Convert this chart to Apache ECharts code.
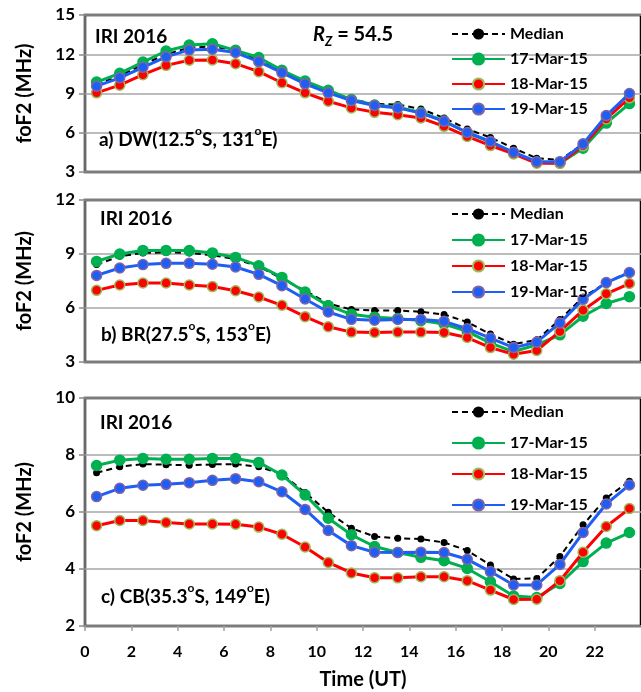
<!DOCTYPE html>
<html>
<head>
<meta charset="utf-8">
<script src="https://cdn.jsdelivr.net/npm/echarts@6/dist/echarts.min.js"></script>
<style>
  html, body {margin: 0; padding: 0; background: #fff;}
  #chart {width: 641px; height: 692px;}
</style>
</head>
<body>
<div id="chart"></div>
<script>
// hours (UT) of each point
const hours = [0.5, 1.5, 2.5, 3.5, 4.5, 5.5, 6.5, 7.5, 8.5, 9.5, 10.5, 11.5,
  12.5, 13.5, 14.5, 15.5, 16.5, 17.5, 18.5, 19.5, 20.5, 21.5, 22.5, 23.5];
const seriesNames = ['Median', '17-Mar-15', '18-Mar-15', '19-Mar-15'];
const xTicks = [0, 24, 2];

// a) DW
const dwMedian = [9.7, 10.35, 11.2, 12.0, 12.5, 12.6, 12.3, 11.6, 10.7, 9.85, 9.15, 8.55, 8.2, 8.15, 7.82, 7.13, 6.28, 5.64, 4.82, 4.05, 3.92, 5.15, 7.3, 8.9];
const dw17 = [9.87, 10.54, 11.4, 12.25, 12.7, 12.8, 12.3, 11.75, 10.77, 9.95, 9.25, 8.54, 8.12, 7.95, 7.55, 6.9, 6.0, 5.3, 4.45, 3.75, 3.67, 4.82, 6.74, 8.23];
const dw18 = [9.05, 9.64, 10.44, 11.15, 11.54, 11.56, 11.28, 10.67, 9.82, 9.05, 8.41, 7.9, 7.56, 7.38, 7.13, 6.49, 5.72, 5.02, 4.38, 3.67, 3.67, 5.0, 7.05, 8.67];
const dw19 = [9.56, 10.2, 11.0, 11.8, 12.33, 12.38, 12.13, 11.44, 10.6, 9.74, 9.05, 8.46, 8.08, 7.9, 7.5, 6.87, 6.02, 5.33, 4.51, 3.79, 3.79, 5.15, 7.31, 9.0];
// b) BR
const brMedian = [8.41, 8.87, 9.06, 9.09, 9.06, 8.93, 8.72, 8.31, 7.63, 6.96, 6.24, 5.92, 5.86, 5.86, 5.79, 5.64, 5.22, 4.55, 3.99, 4.23, 5.36, 6.6, 7.41, 8.0];
const br17 = [8.59, 9.0, 9.2, 9.2, 9.19, 9.06, 8.81, 8.35, 7.7, 6.89, 6.13, 5.65, 5.49, 5.41, 5.3, 5.11, 4.7, 4.05, 3.58, 3.95, 4.51, 5.54, 6.25, 6.63];
const br18 = [6.98, 7.28, 7.39, 7.39, 7.28, 7.19, 6.96, 6.61, 6.15, 5.52, 4.96, 4.66, 4.64, 4.66, 4.66, 4.64, 4.36, 3.8, 3.43, 3.64, 4.7, 5.88, 6.79, 7.36];
const br19 = [7.81, 8.22, 8.41, 8.48, 8.48, 8.43, 8.28, 7.87, 7.24, 6.5, 5.78, 5.37, 5.32, 5.36, 5.36, 5.26, 4.85, 4.33, 3.8, 4.1, 5.17, 6.48, 7.41, 7.97];
// c) CB
const cbMedian = [7.38, 7.59, 7.68, 7.66, 7.64, 7.67, 7.68, 7.59, 7.33, 6.68, 5.99, 5.43, 5.14, 5.08, 5.05, 4.93, 4.65, 4.14, 3.65, 3.67, 4.44, 5.55, 6.49, 7.08];
const cb17 = [7.63, 7.82, 7.88, 7.85, 7.85, 7.88, 7.88, 7.74, 7.3, 6.6, 5.78, 5.2, 4.79, 4.58, 4.41, 4.29, 4.02, 3.55, 3.05, 3.0, 3.49, 4.26, 4.91, 5.28];
const cb18 = [5.52, 5.7, 5.7, 5.63, 5.58, 5.58, 5.57, 5.47, 5.22, 4.77, 4.23, 3.86, 3.69, 3.69, 3.73, 3.73, 3.59, 3.26, 2.93, 2.94, 3.59, 4.59, 5.49, 6.12];
const cb19 = [6.54, 6.83, 6.94, 6.97, 7.03, 7.11, 7.17, 7.06, 6.71, 6.09, 5.35, 4.82, 4.59, 4.58, 4.59, 4.58, 4.34, 3.91, 3.44, 3.44, 4.16, 5.28, 6.28, 6.95];

// y ranges [min, max, interval] per panel
const yRanges = [[3, 15, 3], [3, 12, 3], [2, 10, 2]];

const FONT = 'Lato';
const styles = [
  {color: '#000', width: 2, type: [6, 4], size: 7, border: '#000'},
  {color: '#00b050', width: 3, type: 'solid', size: 10, border: '#00b050'},
  {color: '#ff0000', width: 3, type: 'solid', size: 10, border: '#9bbb59'},
  {color: '#1f5ef5', width: 3, type: 'solid', size: 10, border: '#8064a2'},
];

function pairs(vals){
  return hours.map((h, i) => [h, vals[i]]);
}

function makeSeries(panels){
  let list = [];
  panels.forEach((p, gi) => {
    p.forEach((vals, si) => {
      const s = styles[si];
      list.push({
        name: seriesNames[si],
        type: 'line',
        xAxisIndex: gi,
        yAxisIndex: gi,
        data: pairs(vals),
        symbol: 'circle',
        symbolSize: s.size,
        lineStyle: {color: s.color, width: s.width, type: s.type},
        itemStyle: {color: s.color, borderColor: s.border, borderWidth: si === 0 ? 0 : 1.5},
        emphasis: {disabled: true},
        z: 2 + si
      })
    })
  });
  return list;
}

const grids = [
  {left: 85, right: -3, top: 15, height: 157},
  {left: 85, right: -3, top: 200, height: 162},
  {left: 85, right: -3, top: 398, height: 228},
].map(g => Object.assign(g, {show: true, borderColor: '#000', borderWidth: 2.5, backgroundColor: 'transparent'}));

const xAxes = grids.map((g, i) => ({
  type: 'value',
  gridIndex: i,
  min: xTicks[0],
  max: xTicks[1],
  interval: xTicks[2],
  splitLine: {show: false},
  axisLine: {show: false},
  axisTick: {show: i === 2, length: 5, lineStyle: {color: '#a0a0a0', width: 1.5}},
  axisLabel: {show: i === 2, showMaxLabel: false, margin: 18, color: '#000', fontFamily: FONT, fontWeight: 'bold', fontSize: 16},
  name: i === 2 ? 'Time (UT)' : '',
  nameLocation: 'middle',
  nameGap: 44,
  nameTextStyle: {color: '#000', fontFamily: FONT, fontWeight: 'bold', fontSize: 20}
}));

const yAxes = grids.map((g, i) => ({
  type: 'value',
  gridIndex: i,
  min: yRanges[i][0],
  max: yRanges[i][1],
  interval: yRanges[i][2],
  splitLine: {show: true, lineStyle: {color: '#a6a6a6', width: 1.5}},
  axisLine: {show: true, lineStyle: {color: '#8c8c8c', width: 1.5}},
  axisTick: {show: true, length: 6, lineStyle: {color: '#8c8c8c', width: 1.5}},
  axisLabel: {margin: 10, color: '#000', fontFamily: FONT, fontWeight: 'bold', fontSize: 17},
  name: 'foF2 (MHz)',
  nameLocation: 'middle',
  nameRotate: 90,
  nameGap: 50,
  nameTextStyle: {color: '#000', fontFamily: FONT, fontWeight: 'bold', fontSize: 20}
}));

const legendTops = [[26, 9], [206, 10], [404, 15]];
const legends = legendTops.map(t => ({
  data: seriesNames,
  orient: 'vertical',
  left: 451,
  top: t[0],
  padding: 0,
  z: 10,
  itemGap: t[1],
  itemWidth: 53,
  itemHeight: 14,
  selectedMode: false,
  textStyle: {color: '#000', fontFamily: FONT, fontWeight: 'bold', fontSize: 16}
}));

const rich = {
  n: {fontFamily: FONT, fontWeight: 'bold', fontSize: 19, color: '#000', lineHeight: 24, verticalAlign: 'bottom'},
  sup: {fontFamily: FONT, fontWeight: 'bold', fontSize: 12, color: '#000', lineHeight: 24, verticalAlign: 'top'},
  r: {fontFamily: FONT, fontWeight: 'bold', fontStyle: 'italic', fontSize: 20, color: '#000', lineHeight: 26, verticalAlign: 'middle'},
  sub: {fontFamily: FONT, fontWeight: 'bold', fontStyle: 'italic', fontSize: 13, color: '#000', lineHeight: 26, verticalAlign: 'bottom'},
  eq: {fontFamily: FONT, fontWeight: 'bold', fontSize: 20, color: '#000', lineHeight: 26, verticalAlign: 'middle'}
};

function label(x, y, text){
  return {type: 'text', left: x, top: y, z: 20, style: {text: text, rich: rich}};
}
function iri(x, y){
  return {type: 'text', left: x, top: y, z: 20, style: {text: 'IRI 2016', fontFamily: FONT, fontWeight: 'bold', fontSize: 19, fill: '#000'}};
}

const chart = echarts.init(document.getElementById('chart'));
chart.setOption({
  animation: false,
  backgroundColor: '#fff',
  grid: grids,
  xAxis: xAxes,
  yAxis: yAxes,
  legend: legends,
  series: makeSeries([
    [dwMedian, dw17, dw18, dw19],
    [brMedian, br17, br18, br19],
    [cbMedian, cb17, cb18, cb19]
  ]),
  graphic: [
    iri(95, 27), iri(100, 209), iri(100, 413),
    label(99, 125, '{n|a) DW(12.5}{sup|o}{n|S, 131}{sup|o}{n|E)}'),
    label(101, 320, '{n|b) BR(27.5}{sup|o}{n|S, 153}{sup|o}{n|E)}'),
    label(101, 582, '{n|c) CB(35.3}{sup|o}{n|S, 149}{sup|o}{n|E)}'),
    label(313, 25, '{r|R}{sub|Z}{eq| = 54.5}')
  ]
});
</script>
</body>
</html>
